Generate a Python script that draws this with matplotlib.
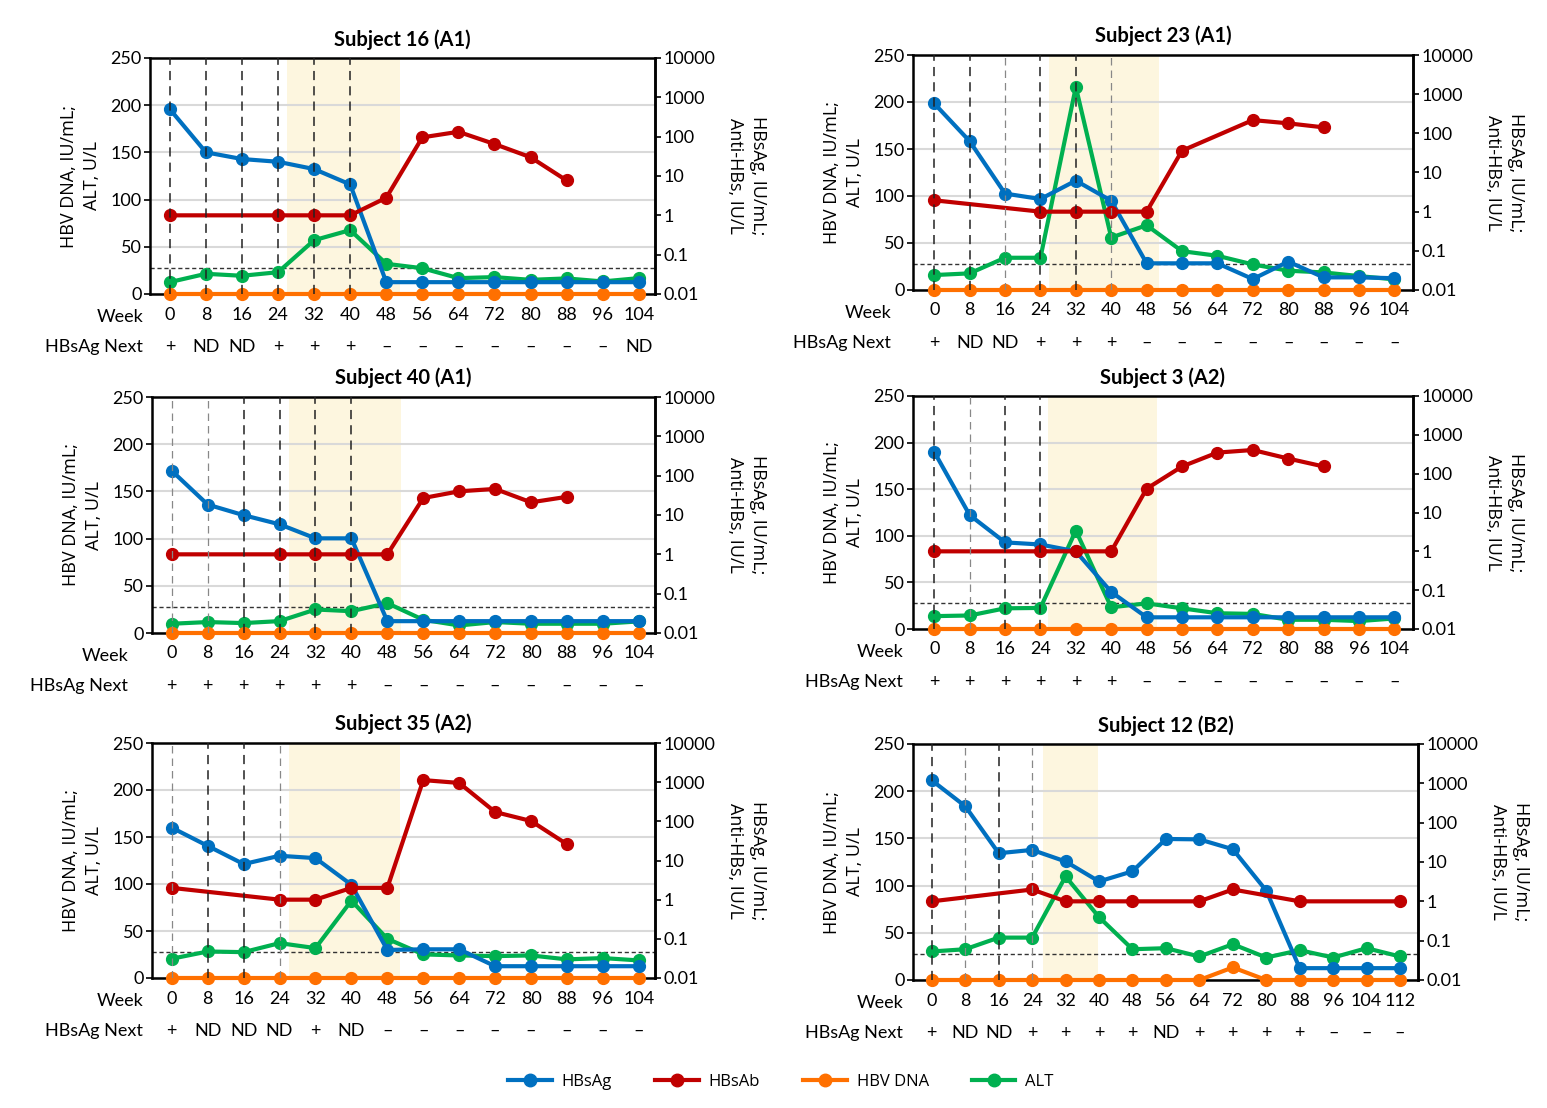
import numpy as np
import matplotlib
matplotlib.use("Agg")
import matplotlib.pyplot as plt
import matplotlib.transforms as mtransforms
from matplotlib.lines import Line2D
from matplotlib.ticker import NullLocator

plt.rcParams['font.family'] = ['Lato', 'DejaVu Sans']

# ---- data (HBsAg IU/mL, HBsAb IU/L on log axis; HBV DNA, ALT on linear axis) ----
weeks_104 = [0, 8, 16, 24, 32, 40, 48, 56, 64, 72, 80, 88, 96, 104]
weeks_112 = [0, 8, 16, 24, 32, 40, 48, 56, 64, 72, 80, 88, 96, 104, 112]

s16_hbsag = [500, 40, 27, 23, 15, 6.1, 0.02, 0.02, 0.02, 0.02, 0.02, 0.02, 0.02, 0.02]
s16_hbsab = [1, None, None, 1, 1, 1, 2.8, 96, 133, 65, 30, 7.7, None, None]
s16_dna = [0, 0, 0, 0, 0, 0, 0, 0, 0, 0, 0, 0, 0, 0]
s16_alt = [12.6, 21.4, 19.3, 23.1, 57, 67.7, 32, 27.3, 16.8, 17.9, 15, 16.5, 13.3, 16.8]
s16_next = ['+', 'ND', 'ND', '+', '+', '+', '–', '–', '–', '–', '–', '–', '–', 'ND']

s23_hbsag = [578, 63, 2.9, 2.1, 6.2, 1.9, 0.048, 0.048, 0.048, 0.019, 0.053, 0.021, 0.021, 0.02]
s23_hbsab = [1.95, None, None, 1, 1, 1, 1, 36, None, 218, 180, 142, None, None]
s23_dna = [0, 0, 0, 0, 0, 0, 0, 0, 0, 0, 0, 0, 0, 0]
s23_alt = [15.9, 17.7, 34.3, 34.3, 216, 55.8, 68.9, 41.3, 36.4, 27.2, 20.5, 18.7, 14.8, 11.3]
s23_next = ['+', 'ND', 'ND', '+', '+', '+', '–', '–', '–', '–', '–', '–', '–', '–']

s40_hbsag = [133, 18.4, 9.9, 5.8, 2.55, 2.55, 0.02, 0.02, 0.02, 0.02, 0.02, 0.02, 0.02, 0.02]
s40_hbsab = [1, None, None, 1, 1, 1, 1, 27, 40, 46, 21, 29, None, None]
s40_dna = [0, 0, 0, 0, 0, 0, 0, 0, 0, 0, 0, 0, 0, 0]
s40_alt = [9.8, 11.6, 10.5, 12.6, 24.9, 23.1, 31.6, 14, 8, 11.6, 9.8, 9.8, 9.8, 12.3]
s40_next = ['+', '+', '+', '+', '+', '+', '–', '–', '–', '–', '–', '–', '–', '–']

s3_hbsag = [363, 8.6, 1.7, 1.5, 1.0, 0.09, 0.02, 0.02, 0.02, 0.02, 0.02, 0.02, 0.02, 0.02]
s3_hbsab = [1, None, None, 1, 1, 1, 41, 153, 349, 407, 245, 153, None, None]
s3_dna = [0, 0, 0, 0, 0, 0, 0, 0, 0, 0, 0, 0, 0, 0]
s3_alt = [13.8, 14.5, 22.2, 22.6, 105.6, 23.3, 27.5, 22.2, 16.9, 16.2, 9.9, 9.9, 8.5, 11.3]
s3_next = ['+', '+', '+', '+', '+', '+', '–', '–', '–', '–', '–', '–', '–', '–']

s35_hbsag = [69, 23.6, 8.1, 13.2, 11.5, 2.4, 0.052, 0.054, 0.054, 0.02, 0.02, 0.02, 0.02, 0.02]
s35_hbsab = [2, None, None, 1, 1, 2, 2, 1130, 955, 173, 102, 26, None, None]
s35_dna = [0, 0, 0, 0, 0, 0, 0, 0, 0, 0, 0, 0, 0, 0]
s35_alt = [20.5, 28.2, 27.5, 37.1, 31.8, 82.3, 41.7, 25.1, 24, 23.3, 24, 19.8, 21.2, 18.7]
s35_next = ['+', 'ND', 'ND', 'ND', '+', 'ND', '–', '–', '–', '–', '–', '–', '–', '–']

s12_hbsag = [1190, 262, 16.7, 20.3, 10.3, 3.2, 5.8, 38.5, 37.6, 21.1, 1.87, 0.02, 0.02, 0.02, 0.02]
s12_hbsab = [1, None, None, 2, 1, 1, 1, None, 1, 2, None, 1, None, None, 1]
s12_dna = [0, 0, 0, 0, 0, 0, 0, 0, 0, 13.3, 0, 0, 0, 0, 0]
s12_alt = [30.2, 32.6, 44.9, 44.9, 109.7, 66.6, 32.6, 33.7, 24.9, 37.9, 23.8, 31.6, 23.8, 33.7, 24.9]
s12_next = ['+', 'ND', 'ND', '+', '+', '+', '+', 'ND', '+', '+', '+', '+', '–', '–', '–']

# dosing weeks (vertical dashed lines); 'l' = lighter line
s16_dose = [(0, 'd'), (8, 'd'), (16, 'd'), (24, 'd'), (32, 'd'), (40, 'd')]
s23_dose = [(0, 'd'), (8, 'd'), (16, 'l'), (24, 'd'), (32, 'd'), (40, 'l')]
s40_dose = [(0, 'l'), (8, 'l'), (16, 'd'), (24, 'd'), (32, 'd'), (40, 'd')]
s3_dose = [(0, 'd'), (8, 'l'), (16, 'd'), (24, 'd')]
s35_dose = [(0, 'l'), (8, 'd'), (16, 'd'), (24, 'l')]
s12_dose = [(0, 'd'), (8, 'l'), (16, 'd'), (24, 'l')]

ULN = 28

C_AG = '#0070c0'
C_AB = '#c00000'
C_DNA = '#ff7000'
C_ALT = '#00b050'
C_SHADE = '#fdf6df'

W, H = 1547, 1108

# title, weeks, hbsag, hbsab, dna, alt, next, dose, shade span, xlim, box px (l, r, top, bottom), label offset px
panels = [
    ('Subject 16 (A1)', weeks_104, s16_hbsag, s16_hbsab, s16_dna, s16_alt, s16_next, s16_dose,
     (26, 51), (-4.4, 107.6), (150, 655, 58, 294), 7),
    ('Subject 23 (A1)', weeks_104, s23_hbsag, s23_hbsab, s23_dna, s23_alt, s23_next, s23_dose,
     (26, 50.8), (-4.8, 108.2), (913, 1413, 55, 290), 22),
    ('Subject 40 (A1)', weeks_104, s40_hbsag, s40_hbsab, s40_dna, s40_alt, s40_next, s40_dose,
     (26, 51), (-4.4, 107.6), (152, 655, 397, 633), 24),
    ('Subject 3 (A2)', weeks_104, s3_hbsag, s3_hbsab, s3_dna, s3_alt, s3_next, s3_dose,
     (25.7, 50.3), (-4.8, 108.2), (913, 1413, 396, 629), 10),
    ('Subject 35 (A2)', weeks_104, s35_hbsag, s35_hbsab, s35_dna, s35_alt, s35_next, s35_dose,
     (26, 50.8), (-4.4, 107.6), (152, 655, 743, 978), 9),
    ('Subject 12 (B2)', weeks_112, s12_hbsag, s12_hbsab, s12_dna, s12_alt, s12_next, s12_dose,
     (26.5, 39.7), (-4.5, 116.3), (913, 1418, 744, 980), 10),
]

fig = plt.figure(figsize=(W / 100, H / 100), dpi=100)

line_kw = dict(lw=3, marker='o', ms=8.5, clip_on=False, solid_capstyle='round')
label_font = ['Open Sans', 'DejaVu Sans']

for (title, weeks, hbsag, hbsab, dna, alt, nxt, dose, shade, xlim, box, lab_dx) in panels:
    l, r, t, b = box
    ax = fig.add_axes([l / W, 1 - b / H, (r - l) / W, (b - t) / H])
    ax.axvspan(shade[0], shade[1], color=C_SHADE, lw=0, zorder=0)
    ax.set_ylim(0, 250)
    ax.set_yticks([0, 50, 100, 150, 200, 250])
    ax.yaxis.grid(True, color='#d9d9d9', lw=1.5)
    ax.set_axisbelow(True)
    ax.axhline(ULN, color='#333333', lw=1, ls=(0, (3, 2)), zorder=2)
    ax.plot(weeks, alt, color=C_ALT, zorder=3, **line_kw)
    ax.plot(weeks, dna, color=C_DNA, zorder=4, **line_kw)
    ax.set_xlim(*xlim)
    ax.set_xticks(weeks)
    ax.set_xticklabels([str(w) for w in weeks])
    ax.tick_params(axis='x', length=0, pad=9, labelsize=13)
    ax.tick_params(axis='y', length=4, width=1.2, labelsize=13, pad=2)
    for s in ax.spines.values():
        s.set_linewidth(1.8)
    ax.set_ylabel('HBV DNA, IU/mL;\nALT, U/L', family=label_font,
                  fontsize=13, linespacing=1.3, labelpad=7)
    ax.set_title(title, fontsize=14.5, fontweight='bold', pad=9)

    ax2 = ax.twinx()
    ax2.set_yscale('log')
    ax2.set_ylim(0.01, 10000)
    ax2.set_yticks([0.01, 0.1, 1, 10, 100, 1000, 10000])
    ax2.set_yticklabels(['0.01', '0.1', '1', '10', '100', '1000', '10000'])
    ax2.yaxis.set_minor_locator(NullLocator())
    ax2.tick_params(axis='y', length=4, width=1.2, labelsize=13, pad=2)
    ax2.set_ylabel('HBsAg, IU/mL;\nAnti-HBs, IU/L', family=label_font,
                   fontsize=13, linespacing=1.3, rotation=270, va='bottom', labelpad=8)
    ax2.plot(weeks, hbsag, color=C_AG, zorder=3, **line_kw)
    ab_w = [w for w, v in zip(weeks, hbsab) if v is not None]
    ab_v = [v for v in hbsab if v is not None]
    ax2.plot(ab_w, ab_v, color=C_AB, zorder=4, **line_kw)
    for wk, kind in dose:
        if kind == 'd':
            ax2.axvline(wk, color='#222222', lw=1.1, ls=(0, (6, 4)), zorder=10)
        else:
            ax2.axvline(wk, color='#888888', lw=0.9, ls=(0, (6, 4)), zorder=10)
    ax2.set_xlim(*xlim)
    for side in ['top', 'bottom', 'left']:
        ax2.spines[side].set_visible(False)
    ax2.spines['right'].set_linewidth(1.8)

    # Week / HBsAg Next row labels
    wk_tr = mtransforms.offset_copy(ax.transAxes, fig=fig, x=-lab_dx, y=-23, units='dots')
    ax.text(0, 0, 'Week', transform=wk_tr, ha='right', va='center', fontsize=13)
    nx_tr = mtransforms.offset_copy(ax.transAxes, fig=fig, x=-lab_dx, y=-53, units='dots')
    ax.text(0, 0, 'HBsAg Next', transform=nx_tr, ha='right', va='center', fontsize=13)
    row_tr = mtransforms.blended_transform_factory(ax.transData, ax.transAxes) + \
        mtransforms.ScaledTranslation(0, -53 / 100, fig.dpi_scale_trans)
    for wk, lab in zip(weeks, nxt):
        ax.text(wk, 0, lab, transform=row_tr, ha='center', va='center', fontsize=13)

handles = [
    Line2D([], [], color=C_AG, lw=3, marker='o', ms=9),
    Line2D([], [], color=C_AB, lw=3, marker='o', ms=9),
    Line2D([], [], color=C_DNA, lw=3, marker='o', ms=9),
    Line2D([], [], color=C_ALT, lw=3, marker='o', ms=9),
]
fig.legend(handles, ['HBsAg', 'HBsAb', 'HBV DNA', 'ALT'], loc='center',
           bbox_to_anchor=(781 / W, 1 - 1082 / H), ncol=4, frameon=False,
           prop={'family': label_font, 'size': 12},
           handlelength=2.6, columnspacing=2.6, handletextpad=0.6)

fig.savefig('out.png', dpi=100, facecolor='white')
